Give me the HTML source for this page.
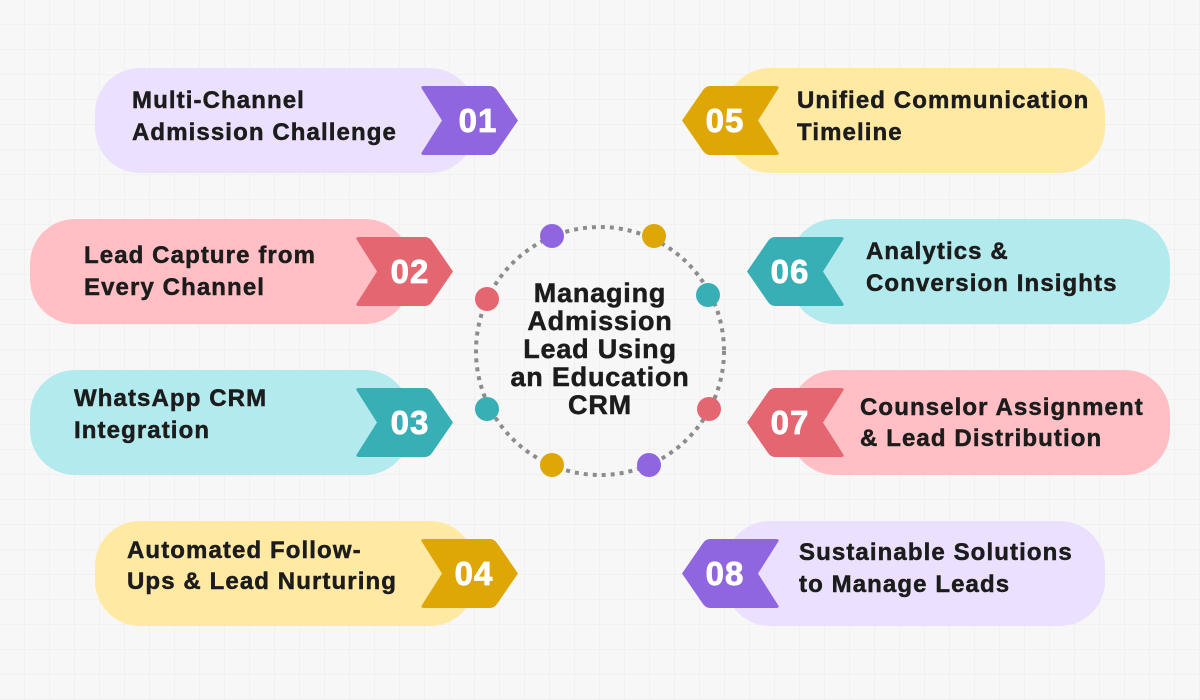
<!DOCTYPE html>
<html><head><meta charset="utf-8"><style>
html,body{margin:0;padding:0;background:#f7f7f7}
svg{display:block}
text{font-family:"Liberation Sans",sans-serif;font-weight:bold}
.t{font-size:24px;fill:#1c1c1c;letter-spacing:1.1px;stroke:#1c1c1c;stroke-width:0.5px}
.n{font-size:33px;fill:#fff;text-anchor:middle;letter-spacing:1px;stroke:#fff;stroke-width:0.8px}
.c{font-size:27px;fill:#1c1c1c;text-anchor:middle;letter-spacing:0.8px;stroke:#1c1c1c;stroke-width:0.5px}
</style></head><body>
<svg width="1200" height="700" viewBox="0 0 1200 700" xmlns="http://www.w3.org/2000/svg">
<defs>
<pattern id="g" width="25" height="25" patternUnits="userSpaceOnUse"><path d="M25 0V25H0" fill="none" stroke="#ebebeb" stroke-width="1"/></pattern>
<path id="r" d="M4,0 H70 Q74,0 77,4 L98,34.5 L77,65 Q74,69 70,69 H4 Q0,69 2,66 L22,34.5 L2,3 Q0,0 4,0 Z"/>
<path id="l" d="M94,0 H28 Q24,0 21,4 L0,34.5 L21,65 Q24,69 28,69 H94 Q98,69 96,66 L76,34.5 L96,3 Q98,0 94,0 Z"/>
</defs>
<rect width="1200" height="700" fill="#f7f7f7"/>
<rect width="1200" height="700" fill="url(#g)"/>

<rect x="95" y="68" width="380" height="105" rx="45" fill="#ebe0fe"/>
<rect x="30" y="219" width="380" height="105" rx="45" fill="#ffbfc4"/>
<rect x="30" y="370" width="380" height="105" rx="45" fill="#b3eaee"/>
<rect x="95" y="521" width="380" height="105" rx="45" fill="#ffe9a3"/>
<rect x="725" y="68" width="380" height="105" rx="45" fill="#ffe9a3"/>
<rect x="790" y="219" width="380" height="105" rx="45" fill="#b3eaee"/>
<rect x="790" y="370" width="380" height="105" rx="45" fill="#ffbfc4"/>
<rect x="725" y="521" width="380" height="105" rx="45" fill="#ebe0fe"/>

<use href="#r" x="420" y="86" fill="#9066e0"/>
<use href="#r" x="355" y="237" fill="#e46670"/>
<use href="#r" x="355" y="388" fill="#38afb5"/>
<use href="#r" x="420" y="539" fill="#dfa705"/>
<use href="#l" x="682" y="86" fill="#dfa705"/>
<use href="#l" x="747" y="237" fill="#38afb5"/>
<use href="#l" x="747" y="388" fill="#e46670"/>
<use href="#l" x="682" y="539" fill="#9066e0"/>

<text class="n" x="478" y="132">01</text>
<text class="n" x="410" y="283">02</text>
<text class="n" x="410" y="434">03</text>
<text class="n" x="474" y="585">04</text>
<text class="n" x="725" y="132">05</text>
<text class="n" x="790" y="283">06</text>
<text class="n" x="790" y="434">07</text>
<text class="n" x="725" y="585">08</text>

<text class="t" x="132" y="108">Multi-Channel</text>
<text class="t" x="132" y="140">Admission Challenge</text>
<text class="t" x="84" y="263">Lead Capture from</text>
<text class="t" x="84" y="295">Every Channel</text>
<text class="t" x="74" y="406">WhatsApp CRM</text>
<text class="t" x="74" y="438">Integration</text>
<text class="t" x="127" y="558">Automated Follow-</text>
<text class="t" x="127" y="589">Ups &amp; Lead Nurturing</text>
<text class="t" x="797" y="108">Unified Communication</text>
<text class="t" x="797" y="140">Timeline</text>
<text class="t" x="866" y="259">Analytics &amp;</text>
<text class="t" x="866" y="291">Conversion Insights</text>
<text class="t" x="860" y="415">Counselor Assignment</text>
<text class="t" x="860" y="446">&amp; Lead Distribution</text>
<text class="t" x="799" y="560">Sustainable Solutions</text>
<text class="t" x="799" y="592">to Manage Leads</text>

<circle cx="600" cy="351" r="124" fill="none" stroke="#8c8c8c" stroke-width="4" stroke-dasharray="4 5"/>
<circle cx="552" cy="236" r="12" fill="#9066e0"/>
<circle cx="654" cy="236" r="12" fill="#dfa705"/>
<circle cx="708" cy="295" r="12" fill="#38afb5"/>
<circle cx="709" cy="409" r="12" fill="#e46670"/>
<circle cx="649" cy="465" r="12" fill="#9066e0"/>
<circle cx="552" cy="465" r="12" fill="#dfa705"/>
<circle cx="487" cy="409" r="12" fill="#38afb5"/>
<circle cx="487" cy="299" r="12" fill="#e46670"/>

<text class="c" x="600" y="302">Managing</text>
<text class="c" x="600" y="330">Admission</text>
<text class="c" x="600" y="358">Lead Using</text>
<text class="c" x="600" y="386">an Education</text>
<text class="c" x="600" y="414">CRM</text>
</svg>
</body></html>
